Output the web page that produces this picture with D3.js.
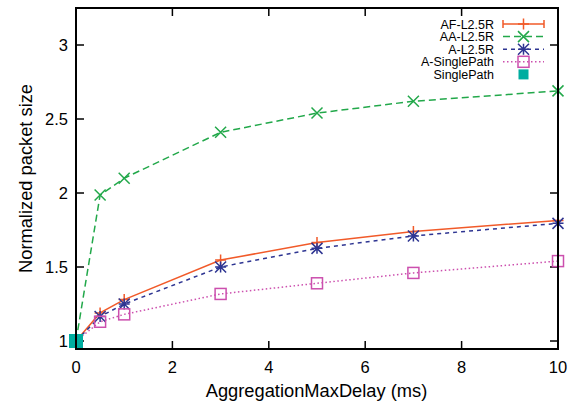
<!DOCTYPE html>
<html>
<head>
<meta charset="utf-8">
<script src="https://cdn.jsdelivr.net/npm/d3@7"></script>
<style>
  html, body { margin: 0; padding: 0; background: #fff; }
  svg { display: block; font-family: "Liberation Sans", Arial, sans-serif; }
</style>
</head>
<body>
<svg id="chart" width="568" height="405"></svg>
<script>
// Aggregation delay values (ms) on the x axis
const delays = [0, 0.5, 1, 3, 5, 7, 10];

// Normalized packet size per scheme
const afL25R = [1, 1.19, 1.28, 1.547, 1.665, 1.74, 1.815];
const aaL25R = [1, 1.986, 2.10, 2.41, 2.54, 2.62, 2.69];
const aL25R = [1, 1.165, 1.25, 1.50, 1.626, 1.71, 1.795];
const aSinglePath = [1, 1.13, 1.18, 1.318, 1.39, 1.46, 1.54];
const singlePath = [1];
const singlePathX = [0];

const seriesNames = ["AF-L2.5R", "AA-L2.5R", "A-L2.5R", "A-SinglePath", "SinglePath"];
const xTicks = [0, 2, 4, 6, 8, 10];
const yTicks = [1, 1.5, 2, 2.5, 3];

const series = [
  { name: seriesNames[0], values: afL25R, color: "#f15a29", dash: null, marker: "plus" },
  { name: seriesNames[1], values: aaL25R, color: "#22a84a", dash: "7,4", marker: "cross" },
  { name: seriesNames[2], values: aL25R, color: "#2e3592", dash: "4,4", marker: "star" },
  { name: seriesNames[3], values: aSinglePath, color: "#cc4fae", dash: "1.5,2.5", marker: "square" }
];

const svg = d3.select("#chart");
const plotLeft = 76, plotRight = 558, plotTop = 8, plotBottom = 349;

const x = d3.scaleLinear().domain([0, 10]).range([plotLeft, plotRight]);
const y = d3.scaleLinear().domain([0.946, 3.25]).range([plotBottom, plotTop]);

// Tick marks drawn inward on all four sides
const tickLen = 8;
const axes = svg.append("g").attr("stroke", "#000").attr("stroke-width", 1.5);
xTicks.forEach(t => {
  axes.append("line").attr("x1", x(t)).attr("x2", x(t)).attr("y1", plotBottom).attr("y2", plotBottom - tickLen);
  if (t !== 10) axes.append("line").attr("x1", x(t)).attr("x2", x(t)).attr("y1", plotTop).attr("y2", plotTop + tickLen);
});
yTicks.forEach(t => {
  axes.append("line").attr("x1", plotLeft).attr("x2", plotLeft + tickLen).attr("y1", y(t)).attr("y2", y(t));
  if (t !== 2.5) axes.append("line").attr("x1", plotRight).attr("x2", plotRight - tickLen).attr("y1", y(t)).attr("y2", y(t));
});

// Tick labels
svg.append("g").selectAll("text").data(xTicks).join("text")
  .attr("x", d => x(d)).attr("y", plotBottom + 24)
  .attr("text-anchor", "middle").attr("font-size", 16.5).attr("fill", "#000")
  .text(d => d);
svg.append("g").selectAll("text").data(yTicks).join("text")
  .attr("x", plotLeft - 8).attr("y", d => y(d) + 6)
  .attr("text-anchor", "end").attr("font-size", 16.5).attr("fill", "#000")
  .text(d => d);

// Axis titles
svg.append("text").attr("x", 316.5).attr("y", 397)
  .attr("text-anchor", "middle").attr("font-size", 18.3).text("AggregationMaxDelay (ms)");
svg.append("text").attr("transform", "translate(32,178.5) rotate(-90)")
  .attr("text-anchor", "middle").attr("font-size", 18.3).text("Normalized packet size");

// Marker shapes
function drawMarker(g, type, cx, cy, color) {
  const s = 5.5;
  if (type === "plus") {
    g.append("path").attr("d", `M${cx - s},${cy}H${cx + s}M${cx},${cy - s}V${cy + s}`)
      .attr("stroke", color).attr("stroke-width", 1.5).attr("fill", "none");
  } else if (type === "cross") {
    g.append("path").attr("d", `M${cx - s},${cy - s}L${cx + s},${cy + s}M${cx - s},${cy + s}L${cx + s},${cy - s}`)
      .attr("stroke", color).attr("stroke-width", 1.5).attr("fill", "none");
  } else if (type === "star") {
    g.append("path").attr("d", `M${cx - s},${cy}H${cx + s}M${cx},${cy - s}V${cy + s}M${cx - s},${cy - s}L${cx + s},${cy + s}M${cx - s},${cy + s}L${cx + s},${cy - s}`)
      .attr("stroke", color).attr("stroke-width", 1.5).attr("fill", "none");
  } else if (type === "square") {
    g.append("rect").attr("x", cx - s).attr("y", cy - s).attr("width", 2 * s).attr("height", 2 * s)
      .attr("stroke", color).attr("stroke-width", 1.5).attr("fill", "none");
  }
}

const line = d3.line().x(d => x(d[0])).y(d => y(d[1]));
const plot = svg.append("g");
series.forEach(s => {
  const pts = delays.map((d, i) => [d, s.values[i]]);
  plot.append("path").datum(pts).attr("d", line)
    .attr("fill", "none").attr("stroke", s.color).attr("stroke-width", 1.5)
    .attr("stroke-dasharray", s.dash);
  pts.forEach(p => drawMarker(plot, s.marker, x(p[0]), y(p[1]), s.color));
});

// SinglePath baseline point
singlePath.forEach((v, i) => {
  plot.append("rect").attr("x", x(singlePathX[i]) - 7).attr("y", y(v) - 7)
    .attr("width", 14).attr("height", 14).attr("fill", "#00ada0");
});

// Frame
svg.append("rect").attr("x", plotLeft).attr("y", plotTop).attr("width", plotRight - plotLeft).attr("height", plotBottom - plotTop)
  .attr("fill", "none").attr("stroke", "#000").attr("stroke-width", 2);

// Legend
const legend = svg.append("g");
const lx1 = 503, lx2 = 544, ly0 = 24, lstep = 12.6;
series.forEach((s, i) => {
  const yy = ly0 + i * lstep;
  legend.append("text").attr("x", 494).attr("y", yy + 4.5).attr("text-anchor", "end")
    .attr("font-size", 12.5).text(s.name);
  legend.append("line").attr("x1", lx1).attr("x2", lx2).attr("y1", yy).attr("y2", yy)
    .attr("stroke", s.color).attr("stroke-width", 1.5).attr("stroke-dasharray", s.dash);
  if (s.marker === "plus") {
    legend.append("path").attr("d", `M${lx1},${yy - 4}V${yy + 4}M${lx2},${yy - 4}V${yy + 4}`)
      .attr("stroke", s.color).attr("stroke-width", 1.5);
  }
  drawMarker(legend, s.marker, (lx1 + lx2) / 2, yy, s.color);
});
{
  const yy = ly0 + 4 * lstep;
  legend.append("text").attr("x", 494).attr("y", yy + 4.5).attr("text-anchor", "end")
    .attr("font-size", 12.5).text(seriesNames[4]);
  legend.append("rect").attr("x", (lx1 + lx2) / 2 - 5).attr("y", yy - 5).attr("width", 10).attr("height", 10)
    .attr("fill", "#00ada0");
}
</script>
</body>
</html>
